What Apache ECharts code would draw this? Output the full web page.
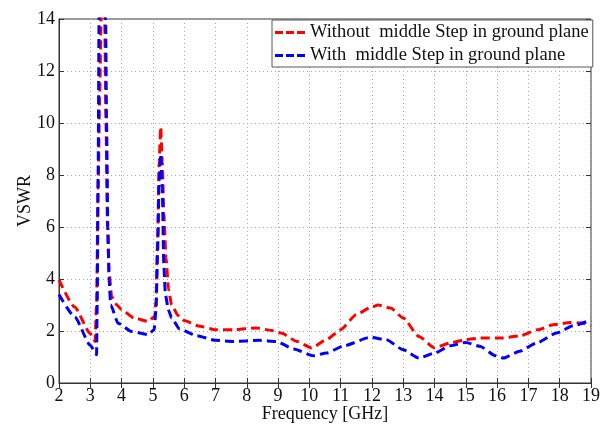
<html>
<head>
    <meta charset="utf-8" />
    <title>VSWR</title>
    <script src="https://cdn.jsdelivr.net/npm/echarts@6/dist/echarts.min.js"></script>
    <style>
        body { margin: 0; background: #fff; }
    </style>
</head>
<body>
    <div id="vswrChart" style="width: 610px;height:424px;"></div>
    <script type="text/javascript">
        // tick labels
        var freqTicks = [2, 3, 4, 5, 6, 7, 8, 9, 10, 11, 12, 13, 14, 15, 16, 17, 18, 19];
        var vswrTicks = [0, 2, 4, 6, 8, 10, 12, 14];

        var seriesNames = ['Without  middle Step in ground plane', 'With  middle Step in ground plane'];

        // red curve (without step)
        var freqWithout = [2.0, 2.5, 3.0, 3.15, 3.2, 3.25, 3.3, 3.35, 3.4, 3.46, 3.5, 3.55, 3.6, 3.68, 3.85, 4.0,
            4.4, 4.85, 5.06, 5.1, 5.15, 5.2, 5.25, 5.3, 5.35, 5.42, 5.5, 5.6, 5.8, 6.0, 6.5, 7.0, 7.6, 8.3, 8.8,
            9.1, 9.6, 10.07, 10.55, 11.0, 11.5, 11.95, 12.2, 12.6, 13.0, 13.5, 14.0, 14.5, 15.0, 15.45, 16.2,
            16.75, 17.3, 17.8, 18.35, 18.7, 19.0];
        var vswrWithout = [3.97, 2.92, 1.9, 1.6, 3.0, 7.5, 11.0, 14.5, 16.0, 14.0, 10.0, 6.0, 4.3, 3.33, 3.0, 2.82,
            2.5, 2.37, 2.56, 3.2, 5.5, 8.5, 9.85, 8.5, 6.5, 4.8, 3.6, 3.0, 2.6, 2.4, 2.18, 2.05, 2.05, 2.12, 2.02,
            1.92, 1.6, 1.35, 1.67, 2.05, 2.63, 2.9, 3.0, 2.88, 2.5, 1.79, 1.35, 1.54, 1.67, 1.73, 1.73,
            1.82, 2.05, 2.24, 2.33, 2.31, 2.2];

        // blue curve (with step)
        var freqWith = [2.0, 2.5, 3.0, 3.2, 3.22, 3.25, 3.28, 3.3, 3.45, 3.49, 3.52, 3.56, 3.6, 3.65, 3.89, 4.32,
            4.85, 5.04, 5.1, 5.15, 5.2, 5.25, 5.3, 5.35, 5.4, 5.5, 5.6, 5.85, 6.4, 7.0, 7.6, 8.4, 8.95, 9.5,
            10.13, 10.55, 11.1, 11.95, 12.45, 13.0, 13.5, 14.0, 14.5, 15.0, 15.45, 15.95, 16.2, 16.72, 17.26,
            17.9, 18.43, 19.0];
        var vswrWith = [3.4, 2.55, 1.45, 1.09, 3.0, 8.0, 14.0, 17.0, 17.0, 14.0, 10.0, 6.0, 4.0, 3.0, 2.3, 1.98,
            1.86, 2.05, 2.8, 5.0, 7.8, 8.8, 7.5, 4.5, 3.4, 2.8, 2.5, 2.08, 1.82, 1.64, 1.6, 1.64, 1.6, 1.31,
            1.05, 1.15, 1.43, 1.76, 1.67, 1.28, 0.96, 1.15, 1.43, 1.56, 1.41, 1.05, 0.96, 1.22, 1.54,
            1.92, 2.2, 2.43];

        function pairs(xs, ys) {
            return xs.map(function (x, i) { return [x, ys[i]]; });
        }

        var serif = 'Liberation Serif';
        var dashIcon = 'path://M0,0h8v3h-8z M11,0h8v3h-8z M22,0h8v3h-8z';
        var chart = echarts.init(document.getElementById('vswrChart'));

        var option = {
            backgroundColor: '#fff',
            animation: false,
            grid: {
                left: 59, right: 19, top: 19, bottom: 41,
                outerBoundsMode: 'none',
                show: true, borderColor: '#333', borderWidth: 1
            },
            legend: {
                orient: 'vertical',
                left: 272, top: 20,
                padding: [3, 4, 2, 3],
                itemGap: 4,
                itemWidth: 30, itemHeight: 3,
                backgroundColor: '#fff',
                borderColor: '#555', borderWidth: 1,
                textStyle: { fontFamily: serif, fontSize: 18.5, color: '#111' },
                data: [
                    { name: seriesNames[0], icon: dashIcon, itemStyle: { color: '#ff0000' } },
                    { name: seriesNames[1], icon: dashIcon, itemStyle: { color: '#0000ff' } }
                ]
            },
            xAxis: [{
                type: 'value', min: 2, max: 19, interval: 1,
                name: 'Frequency [GHz]', nameLocation: 'middle', nameGap: 22, nameMoveOverlap: false,
                nameTextStyle: { fontFamily: serif, fontSize: 18, color: '#111' },
                axisLine: { lineStyle: { color: '#333' } },
                axisTick: { inside: true, length: 5, lineStyle: { color: '#333' } },
                axisLabel: { fontFamily: serif, fontSize: 18, color: '#111', margin: 4 },
                splitLine: { show: true, lineStyle: { color: '#aaa', type: [1, 3] } }
            }, {
                type: 'value', min: 2, max: 19, interval: 1, position: 'top',
                axisLine: { show: false },
                axisTick: { inside: true, length: 5, lineStyle: { color: '#333' } },
                axisLabel: { show: false },
                splitLine: { show: false }
            }],
            yAxis: [{
                type: 'value', min: 0, max: 14, interval: 2,
                name: 'VSWR', nameLocation: 'middle', nameGap: 25, nameMoveOverlap: false,
                nameTextStyle: { fontFamily: serif, fontSize: 18, color: '#111' },
                axisLine: { show: true, lineStyle: { color: '#333' } },
                axisTick: { show: true, inside: true, length: 5, lineStyle: { color: '#333' } },
                axisLabel: { fontFamily: serif, fontSize: 18, color: '#111', margin: 4 },
                splitLine: { show: true, lineStyle: { color: '#aaa', type: [1, 3] } }
            }, {
                type: 'value', min: 0, max: 14, interval: 2, position: 'right',
                axisLine: { show: false },
                axisTick: { show: true, inside: true, length: 5, lineStyle: { color: '#333' } },
                axisLabel: { show: false },
                splitLine: { show: false }
            }],
            series: [{
                name: seriesNames[0],
                type: 'line',
                data: pairs(freqWithout, vswrWithout),
                showSymbol: false,
                smooth: 0.2,
                smoothMonotone: 'x',
                color: '#ff0000',
                lineStyle: { color: '#ff0000', width: 3, type: [9, 5] }
            }, {
                name: seriesNames[1],
                type: 'line',
                data: pairs(freqWith, vswrWith),
                showSymbol: false,
                smooth: 0.2,
                smoothMonotone: 'x',
                color: '#0000ff',
                lineStyle: { color: '#0000ff', width: 3, type: [9, 5] }
            }]
        };
        chart.setOption(option);
    </script>
</body>
</html>
